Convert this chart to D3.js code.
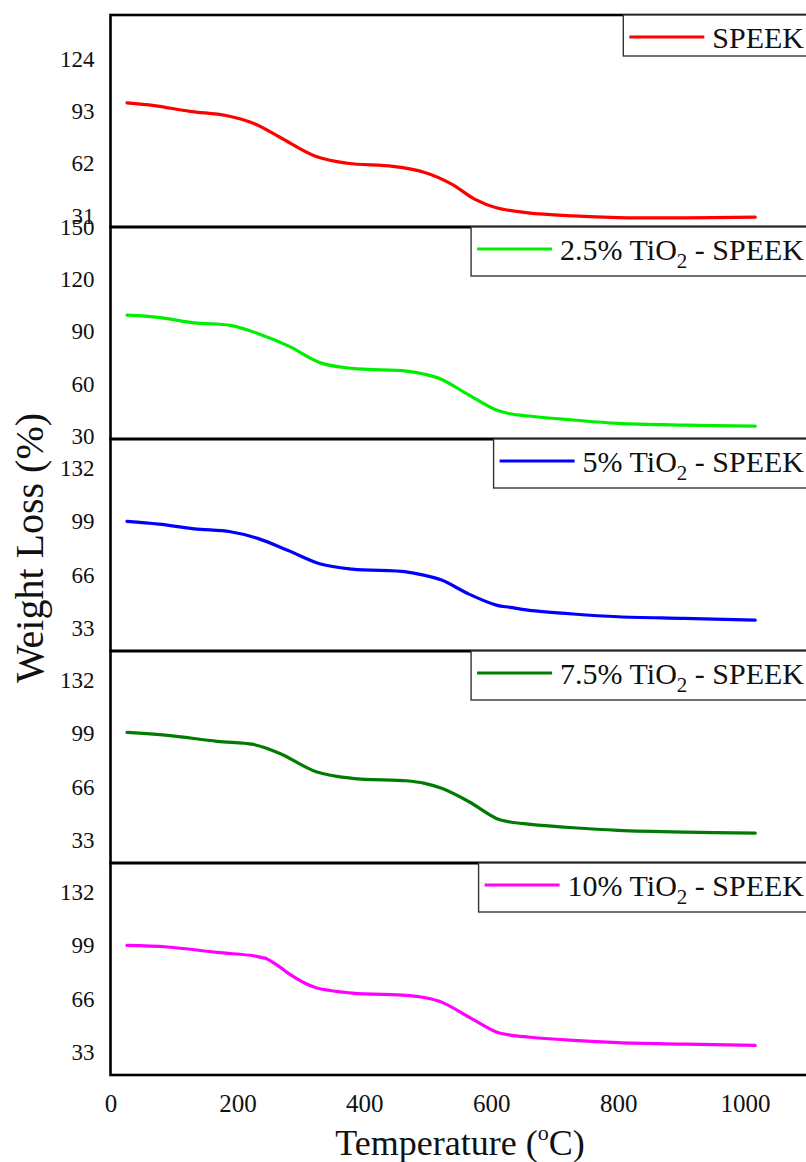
<!DOCTYPE html>
<html>
<head>
<meta charset="utf-8">
<script src="https://cdn.jsdelivr.net/npm/d3@7"></script>
<style>
  html, body { margin: 0; padding: 0; background: #ffffff; }
  svg { display: block; }
  text { font-family: "Liberation Serif", "Times New Roman", serif; fill: #111; }
</style>
</head>
<body>
<svg id="chart" width="806" height="1162"></svg>
<script>
// TGA curves: weight (%) versus temperature (°C) for SPEEK and TiO2–SPEEK composites
const tempSPEEK = [26, 69, 125, 182, 225, 267, 324, 374, 445, 494, 537, 573, 608, 658, 729, 800, 905, 1016];
const lossSPEEK = [97.9, 96.3, 92.9, 90.4, 85.8, 77.5, 66.1, 62.1, 60.2, 56.8, 49.9, 41.0, 35.7, 32.7, 30.9, 29.9, 29.7, 30.1];

const tempTiO2_25 = [26, 76, 132, 189, 232, 281, 331, 381, 466, 495, 522, 565, 608, 630, 658, 729, 800, 905, 1016];
const lossTiO2_25 = [99.4, 98.1, 95.0, 93.5, 88.9, 81.6, 72.0, 68.8, 67.3, 65.5, 62.5, 53.5, 44.9, 42.8, 41.5, 39.2, 37.3, 36.3, 35.7];

const tempTiO2_5 = [26, 76, 132, 189, 232, 281, 331, 381, 466, 495, 522, 565, 608, 630, 658, 729, 800, 905, 1016];
const lossTiO2_5 = [99.0, 97.3, 94.4, 92.6, 88.5, 80.8, 72.6, 69.5, 67.8, 65.6, 62.7, 54.0, 47.2, 45.8, 44.1, 41.7, 40.0, 39.0, 37.9];

const tempTiO2_75 = [26, 90, 168, 225, 267, 324, 381, 466, 495, 522, 565, 608, 630, 658, 729, 800, 905, 1016];
const lossTiO2_75 = [99.6, 97.8, 94.1, 92.2, 86.6, 75.3, 71.2, 69.7, 68.1, 65.0, 56.7, 46.4, 44.2, 42.9, 40.6, 39.0, 37.9, 37.3];

const tempTiO2_10 = [26, 90, 168, 225, 239, 246, 267, 281, 303, 324, 381, 466, 495, 522, 565, 608, 630, 658, 729, 800, 905, 1016];
const lossTiO2_10 = [99.0, 98.0, 94.7, 92.6, 91.4, 90.8, 85.6, 81.5, 76.3, 72.8, 69.5, 68.1, 66.7, 63.9, 54.6, 45.4, 43.5, 42.3, 40.2, 38.8, 37.9, 37.1];

// legend labels: text before the subscript, subscript, text after it
const labelMain = ["SPEEK", "2.5% TiO", "5% TiO", "7.5% TiO", "10% TiO"];
const labelSub  = ["", "2", "2", "2", "2"];
const labelTail = ["", " - SPEEK", " - SPEEK", " - SPEEK", " - SPEEK"];
const seriesColors = ["#ff0000", "#00ee00", "#0000ff", "#007a00", "#ff00ff"];

// y-axis ranges and tick labels of the five stacked panels
const yMin = [24.3, 28.3, 18.8, 18.8, 18.8];
const yMax = [150, 150, 150, 150, 150];
const yTicks = [
  [31, 62, 93, 124],
  [30, 60, 90, 120, 150],
  [33, 66, 99, 132],
  [33, 66, 99, 132],
  [33, 66, 99, 132]
];
const xTicks = [0, 200, 400, 600, 800, 1000];

const temps = [tempSPEEK, tempTiO2_25, tempTiO2_5, tempTiO2_75, tempTiO2_10];
const losses = [lossSPEEK, lossTiO2_25, lossTiO2_5, lossTiO2_75, lossTiO2_10];

// layout
const svg = d3.select("#chart");
const left = 110.5, right = 808.5;
const firstTop = 15, panelH = 212;
const x = d3.scaleLinear().domain([0, 1100]).range([left, right]);
const serif = "'Liberation Serif', 'Times New Roman', serif";

const panels = temps.map((t, i) => ({
  i,
  top: firstTop + i * panelH,
  pts: t.map((T, k) => ({ T, v: losses[i][k] }))
}));

panels.forEach(p => {
  const y = d3.scaleLinear().domain([yMin[p.i], yMax[p.i]]).range([p.top + panelH, p.top]);

  // curve
  const line = d3.line().x(d => x(d.T)).y(d => y(d.v)).curve(d3.curveCatmullRom.alpha(0.5));
  svg.append("path")
    .datum(p.pts)
    .attr("d", line)
    .attr("fill", "none")
    .attr("stroke", seriesColors[p.i])
    .attr("stroke-width", 3.2)
    .attr("stroke-linecap", "round")
    .attr("stroke-linejoin", "round");

  // y axis tick labels
  const ax = svg.append("g")
    .attr("transform", `translate(${left},0)`)
    .call(d3.axisLeft(y).tickValues(yTicks[p.i]).tickFormat(d3.format("d")).tickSize(0).tickPadding(16));
  ax.select(".domain").remove();
  ax.selectAll("text")
    .attr("font-size", 23)
    .attr("font-family", serif)
    .attr("fill", "#111");
});

// panel frames
panels.forEach(p => {
  svg.append("rect")
    .attr("x", left).attr("y", p.top)
    .attr("width", right - left).attr("height", panelH)
    .attr("fill", "none")
    .attr("stroke", "#000")
    .attr("stroke-width", 2.6);
});

// legends, one per panel, at the upper right corner
panels.forEach(p => {
  const g = svg.append("g");
  const hasSub = labelSub[p.i] !== "";
  const boxH = hasSub ? 49 : 41;
  const box = g.append("rect")
    .attr("y", p.top).attr("height", boxH)
    .attr("fill", "#ffffff")
    .attr("stroke", "#333")
    .attr("stroke-width", 1.4);
  const txt = g.append("text")
    .attr("x", 804).attr("y", p.top + 33)
    .attr("text-anchor", "end")
    .attr("font-size", 30);
  txt.append("tspan").text(labelMain[p.i]);
  if (hasSub) {
    txt.append("tspan").attr("font-size", 21).attr("dy", 8).text(labelSub[p.i]);
    txt.append("tspan").attr("dy", -8).text(labelTail[p.i]);
  }
  const bb = txt.node().getBBox();
  const lineEnd = bb.x - 8, lineStart = lineEnd - 75;
  g.append("line")
    .attr("x1", lineStart).attr("x2", lineEnd)
    .attr("y1", p.top + 22).attr("y2", p.top + 22)
    .attr("stroke", seriesColors[p.i])
    .attr("stroke-width", 3.2);
  box.attr("x", lineStart - 6).attr("width", 820 - (lineStart - 6));
});

// bottom temperature axis
const bottom = firstTop + panels.length * panelH;
const xa = svg.append("g")
  .attr("transform", `translate(0,${bottom})`)
  .call(d3.axisBottom(x).tickValues(xTicks).tickFormat(d3.format("d")).tickSize(0).tickPadding(19));
xa.select(".domain").remove();
xa.selectAll("text")
  .attr("font-size", 25)
  .attr("font-family", serif)
  .attr("fill", "#111");

// axis titles
const xt = svg.append("text")
  .attr("x", 460).attr("y", 1155)
  .attr("text-anchor", "middle")
  .attr("font-size", 36);
xt.append("tspan").text("Temperature (");
xt.append("tspan").attr("font-size", 22).attr("dy", -15).text("o");
xt.append("tspan").attr("dy", 15).text("C)");

svg.append("text")
  .attr("transform", "translate(43,548) rotate(-90)")
  .attr("text-anchor", "middle")
  .attr("font-size", 40)
  .text("Weight Loss (%)");
</script>
</body>
</html>
